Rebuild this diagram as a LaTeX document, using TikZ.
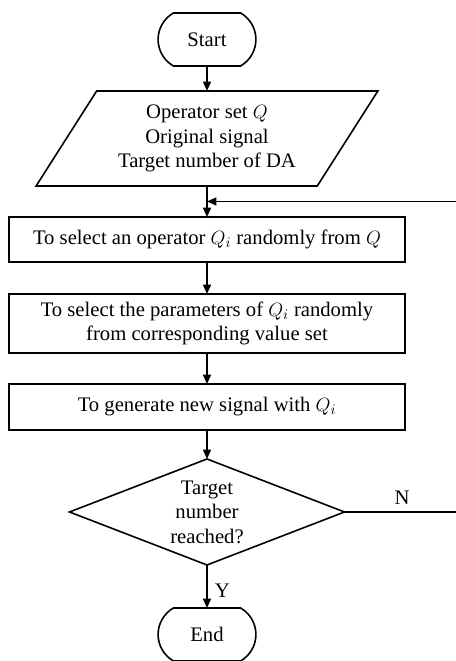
\documentclass[tikz,border=0pt]{standalone}
\usepackage{fontspec}
\setmainfont{Liberation Serif}
\usetikzlibrary{shapes.geometric, shapes.misc, arrows.meta, positioning, calc}
\tikzstyle{term} = [rounded rectangle, rounded rectangle arc length=120, minimum width=80pt, minimum height=39.75pt, outer sep=0pt, draw=black, line width=1.2pt]
\tikzstyle{io} = [trapezium, trapezium left angle=54, trapezium right angle=126, trapezium stretches=true, minimum width=256.5pt, minimum height=71.25pt, inner sep=0pt, outer sep=0pt, align=center, draw=black, line width=1.2pt]
\tikzstyle{process} = [rectangle, minimum width=297pt, align=center, outer sep=0pt, draw=black, line width=1.2pt]
\tikzstyle{decision} = [diamond, aspect=2.6, minimum width=206.25pt, minimum height=79.5pt, inner sep=0pt, outer sep=0pt, align=center, draw=black, line width=1.2pt]
\tikzstyle{arrow} = [line width=1.2pt, -{Triangle[length=7pt, width=6pt]}]

\begin{document}
\begin{tikzpicture}[every node/.style={font=\fontsize{15.5}{18.4}\selectfont}]
        \useasboundingbox (0,0) rectangle (342pt,-495.75pt);
        \node[term] (start) at (155.25pt,-29.6pt) {Start};
        \node[io, below=18.75pt of start] (input) {Operator set $Q$\\Original signal\\Target number of DA};
        \node[process, minimum height=33.75pt, below=23.25pt of input] (select) {To select an operator $Q_i$ randomly from $Q$};
        \node[process, minimum height=44.25pt, below=24pt of select] (param) {To select the parameters of $Q_i$ randomly\\from corresponding value set};
        \node[process, minimum height=34.5pt, below=23.25pt of param] (gen) {To generate new signal with $Q_i$};
        \node[decision, below=21.75pt of gen] (check) {Target\\number\\reached?};
        \node[term, below=32.25pt of check] (stop) {End};

        % loop back point and the turn on the right
        \coordinate (merge) at ($(input.south)!0.5!(select.north)$);
        \coordinate (back) at ($(check.east)+(86.25pt,0)$);

        \draw[arrow] (start) -- (input);
        \draw[arrow] (input) -- (select);
        \draw[arrow] (select) -- (param);
        \draw[arrow] (param) -- (gen);
        \draw[arrow] (gen) -- (check);
        \draw[arrow] (check) -- node[right=2pt, pos=0.6] {Y} (stop);
        \draw[arrow] (check.east) -- node[above, yshift=1.5pt] {N} (back) |- (merge);
    \end{tikzpicture}
\end{document}
